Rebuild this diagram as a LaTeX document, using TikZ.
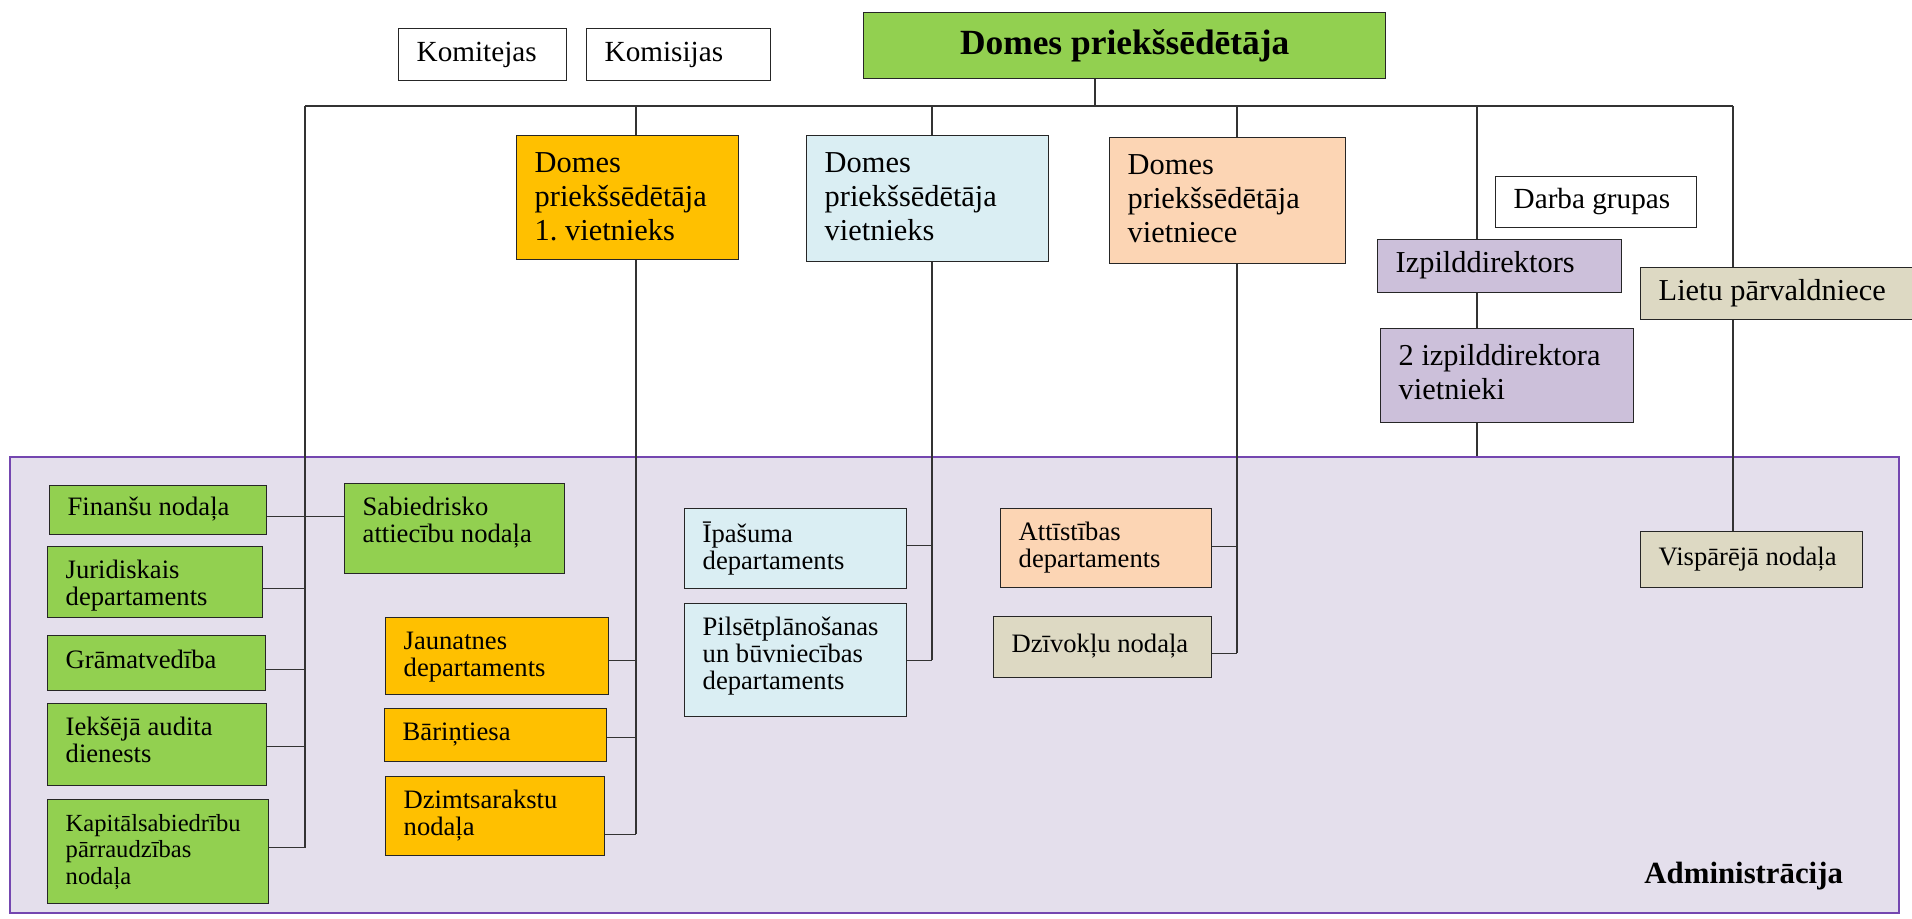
\documentclass[tikz,border=0pt]{standalone}
\usepackage{fontspec}
\setmainfont{Liberation Serif}

\definecolor{cGreen}{HTML}{92D050}
\definecolor{cOrange}{HTML}{FFC000}
\definecolor{cBlue}{HTML}{DAEEF3}
\definecolor{cPeach}{HTML}{FCD5B4}
\definecolor{cLilac}{HTML}{CCC0DA}
\definecolor{cTan}{HTML}{DDD9C3}
\definecolor{cArea}{HTML}{E4DFEC}
\definecolor{cAreaLine}{HTML}{7446B0}

\tikzset{
  unit/.style={draw=black!85, line width=0.7pt, inner xsep=9pt, inner ysep=6.5pt},
  big/.style={unit, font=\fontsize{15.2}{17}\selectfont},
  small/.style={unit, font=\fontsize{13.3}{13.5}\selectfont},
  plain/.style={unit, fill=white, font=\fontsize{14.6}{17}\selectfont},
  link/.style={draw=black!80, line width=0.6pt},
}

% box with text at top (t) or middle (c); x, y, w, h in pixels
\newcommand{\orgbox}[8]{%
  \node[#1, anchor=north west] (#2) at (#3,#4)
    {\parbox[c][\dimexpr#6pt/2-13pt\relax][#7]{\dimexpr#5pt/2-18pt\relax}{\raggedright\strut#8}};}

\begin{document}
\begin{tikzpicture}[x=0.5pt,y=-0.5pt]

\useasboundingbox (0,0) rectangle (1912,919);

% administration area
\node[draw=cAreaLine, fill=cArea, line width=1pt, inner sep=0pt, minimum width=944.5pt, minimum height=228pt, anchor=north west] (area) at (9,456) {};
\node[font=\bfseries\fontsize{15.4}{17}\selectfont, anchor=base east] (adm) at (1850,883) {Administrācija};

% top level
\node[unit, fill=cGreen, font=\bfseries\fontsize{17.7}{20}\selectfont, minimum width=261pt, minimum height=33pt, anchor=north west] (top) at (863,12) {Domes priekšsēdētāja};
\orgbox{plain}{kmt}{398}{28}{168}{52}{c}{Komitejas}
\orgbox{plain}{kms}{586}{28}{184}{52}{c}{Komisijas}

% deputies
\orgbox{big, fill=cOrange}{vice1}{516}{135}{222}{124}{t}{Domes\\priekšsēdētāja\\1.~vietnieks}
\orgbox{big, fill=cBlue}{vice2}{806}{135}{242}{126}{t}{Domes\\priekšsēdētāja\\vietnieks}
\orgbox{big, fill=cPeach}{vice3}{1109}{137}{236}{126}{t}{Domes\\priekšsēdētāja\\vietniece}
\orgbox{plain}{darba}{1495}{176}{201}{51}{c}{Darba~grupas}
\orgbox{big, fill=cLilac}{izp}{1377}{239}{244}{53}{c}{Izpilddirektors}
\orgbox{big, fill=cLilac}{izpv}{1380}{328}{253}{94}{t}{2~izpilddirektora\\vietnieki}
\orgbox{big, fill=cTan}{lietu}{1640}{267}{280}{52}{c}{Lietu~pārvaldniece}

% chairman's units
\orgbox{small, fill=cGreen}{fin}{49}{485}{217}{49}{c}{Finanšu~nodaļa}
\orgbox{small, fill=cGreen}{jur}{47}{546}{215}{71}{t}{Juridiskais\\departaments}
\orgbox{small, fill=cGreen}{gram}{47}{635}{218}{55}{c}{Grāmatvedība}
\orgbox{small, fill=cGreen}{iek}{47}{703}{219}{82}{t}{Iekšējā~audita\\dienests}
\orgbox{small, fill=cGreen, font=\fontsize{12.3}{13.3}\selectfont}{kap}{47}{799}{221}{104}{t}{Kapitālsabiedrību\\pārraudzības\\nodaļa}
\orgbox{small, fill=cGreen}{sab}{344}{483}{220}{90}{t}{Sabiedrisko\\attiecību~nodaļa}

% first deputy's units
\orgbox{small, fill=cOrange}{jaun}{385}{617}{223}{77}{t}{Jaunatnes\\departaments}
\orgbox{small, fill=cOrange}{bari}{384}{708}{222}{53}{c}{Bāriņtiesa}
\orgbox{small, fill=cOrange}{dzim}{385}{776}{219}{79}{t}{Dzimtsarakstu\\nodaļa}

% deputy's units
\orgbox{small, fill=cBlue}{ipas}{684}{508}{222}{80}{t}{Īpašuma\\departaments}
\orgbox{small, fill=cBlue}{pils}{684}{603}{222}{113}{t}{Pilsētplānošanas\\un~būvniecības\\departaments}

% deputy's (f) units
\orgbox{small, fill=cPeach}{att}{1000}{508}{211}{79}{t}{Attīstības\\departaments}
\orgbox{small, fill=cTan}{dziv}{993}{616}{218}{61}{c}{Dzīvokļu~nodaļa}
\orgbox{small, fill=cTan}{visp}{1640}{531}{222}{56}{c}{Vispārējā~nodaļa}

% links
\coordinate (barL) at (305,106);
\coordinate (barR) at (1733,106);
\coordinate (dTop) at (1095,106);
\coordinate (dV1) at (636,106);
\coordinate (dV2) at (932,106);
\coordinate (dV3) at (1237,106);
\coordinate (dIz) at (1477,106);
\foreach \n/\s in {fin/-3pt,jur/-3pt,gram/-3pt,iek/-1pt,kap/2pt,jaun/-2pt,bari/-1pt,dzim/-9pt,ipas/1.5pt,pils/0pt,att/1pt,dziv/-3pt}
  \coordinate (\n-r) at ([yshift=\s]\n.east);

\draw[link] (barL) -- (barR);
\draw[link] (dTop) -- (dTop |- top.south);

\draw[link] (barL) -- (barL |- kap-r);
\foreach \n in {jur,gram,iek,kap} \draw[link] (\n-r) -- (\n-r -| barL);
\draw[link] (fin-r) -- (fin-r -| sab.west);

\draw[link] (dV1) -- (dV1 |- vice1.north);
\draw[link] (dV1 |- vice1.south) -- (dV1 |- dzim-r);
\foreach \n in {jaun,bari,dzim} \draw[link] (\n-r) -- (\n-r -| dV1);

\draw[link] (dV2) -- (dV2 |- vice2.north);
\draw[link] (dV2 |- vice2.south) -- (dV2 |- pils-r);
\foreach \n in {ipas,pils} \draw[link] (\n-r) -- (\n-r -| dV2);

\draw[link] (dV3) -- (dV3 |- vice3.north);
\draw[link] (dV3 |- vice3.south) -- (dV3 |- dziv-r);
\foreach \n in {att,dziv} \draw[link] (\n-r) -- (\n-r -| dV3);

\draw[link] (dIz) -- (dIz |- izp.north);
\draw[link] (dIz |- izp.south) -- (dIz |- izpv.north);
\draw[link] (dIz |- izpv.south) -- (dIz |- area.north);

\draw[link] (barR) -- (barR |- lietu.north);
\draw[link] (barR |- lietu.south) -- (barR |- visp.north);

\end{tikzpicture}
\end{document}
